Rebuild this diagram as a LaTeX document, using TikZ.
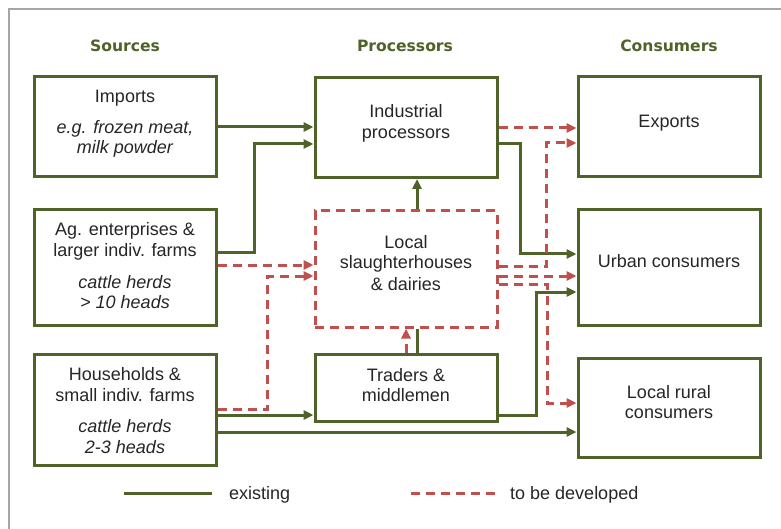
\documentclass[tikz,border=0pt]{standalone}
\usepackage{fontspec}
\setmainfont{Liberation Sans}
\newfontfamily\headfont{DejaVu Sans}
\usetikzlibrary{arrows.meta}
\definecolor{grn}{HTML}{4F6228}
\definecolor{rd}{HTML}{C0504D}
\definecolor{txtc}{HTML}{262626}
\definecolor{framec}{HTML}{A6A6A6}
\begin{document}
\begin{tikzpicture}[x=1pt,y=-1pt,
  box/.style={draw=grn, line width=3pt, minimum width=182pt, inner sep=0pt},
  dbox/.style={draw=rd, line width=3pt, dash pattern=on 9pt off 6pt, minimum width=182pt, inner sep=0pt},
  tl/.style={anchor=base, text=txtc, inner sep=0pt, font=\fontsize{18}{21}\selectfont},
  til/.style={anchor=base, text=txtc, inner sep=0pt, font=\fontsize{18}{21}\selectfont\itshape},
  hd/.style={anchor=base, text=grn, inner sep=0pt, font=\headfont\bfseries\fontsize{15.6}{18}\selectfont},
  ex/.style={draw=grn, line width=3pt, -{Triangle[length=10pt,width=9pt]}},
  exn/.style={draw=grn, line width=3pt},
  tb/.style={draw=rd, line width=3pt, dash pattern=on 9pt off 6pt, -{Triangle[length=10pt,width=9pt]}},
  tbn/.style={draw=rd, line width=3pt, dash pattern=on 9pt off 6pt},
]
\useasboundingbox (0,0) rectangle (781,529);
\fill[white] (0,0) rectangle (781,529);
% frame
\draw[framec, line width=1.5pt] (781,9) -- (9,9) -- (9,529);

% headings
\node[hd] (hsrc) at (125,52) {Sources};
\node[hd] (hpro) at (405,52) {Processors};
\node[hd] (hcon) at (669,52) {Consumers};

% boxes
\node[box, minimum height=100pt] (imp) at (125,127) {};
\node[box, minimum height=115pt] (ag) at (125,267.5) {};
\node[box, minimum height=111pt] (hh) at (125,409.5) {};
\node[box, minimum height=100pt] (ind) at (406,127.5) {};
\node[dbox, minimum height=116pt] (loc) at (406,269) {};
\node[box, minimum height=67pt] (tr) at (406,387.5) {};
\node[box, minimum height=100pt] (exp) at (669,127) {};
\node[box, minimum height=115pt] (urb) at (669,267.5) {};
\node[box, minimum height=99pt] (rur) at (669,407.5) {};

% texts
\node[tl] (imp1) at (125,103) {Imports};
\node[til] (imp2) at (125,134) {e.g. frozen meat,};
\node[til] (imp3) at (125,154) {milk powder};
\node[tl] (ag1) at (125,236) {Ag. enterprises \&};
\node[tl] (ag2) at (125,256) {larger indiv. farms};
\node[til] (ag3) at (125,288) {cattle herds};
\node[til] (ag4) at (125,308) {> 10 heads};
\node[tl] (hh1) at (125,380) {Households \&};
\node[tl] (hh2) at (125,401) {small indiv. farms};
\node[til] (hh3) at (125,432) {cattle herds};
\node[til] (hh4) at (125,453) {2-3 heads};
\node[tl] (ind1) at (406,118) {Industrial};
\node[tl] (ind2) at (406,139) {processors};
\node[tl] (loc1) at (406,249) {Local};
\node[tl] (loc2) at (406,269) {slaughterhouses};
\node[tl] (loc3) at (406,290) {\& dairies};
\node[tl] (tr1) at (406,381) {Traders \&};
\node[tl] (tr2) at (406,401) {middlemen};
\node[tl] (exp1) at (669,128) {Exports};
\node[tl] (urb1) at (669,268) {Urban consumers};
\node[tl] (rur1) at (669,398) {Local rural};
\node[tl] (rur2) at (669,418) {consumers};

% existing flows
\draw[ex] (imp.east) -- (imp.east -| ind.west);
\draw[ex] (ag.east |- 0,253) -- (254,253) -- (254,144) -- (ind.west |- 0,144);
\draw[ex] (loc.north -| 417,0) -- (ind.south -| 417,0);
\draw[exn] (tr.north -| 417,0) -- (loc.south -| 417,0);
\draw[ex] (ind.east |- 0,144) -- (520,144) -- (520,254) -- (urb.west |- 0,254);
\draw[ex] (tr.east |- 0,415) -- (536,415) -- (536,292) -- (urb.west |- 0,292);
\draw[ex] (hh.east |- 0,415) -- (tr.west |- 0,415);
\draw[ex] (hh.east |- 0,432) -- (rur.west |- 0,432);

% flows to be developed
\draw[tb] (ind.east |- 0,128) -- (exp.west |- 0,128);
\draw[tb] (loc.east |- 0,266) -- (546,266) -- (546,143) -- (exp.west |- 0,143);
\draw[tb] (loc.east |- 0,276) -- (urb.west |- 0,276);
\draw[tb] (loc.east |- 0,284) -- (547,284) -- (547,403) -- (rur.west |- 0,403);
\draw[tb] (ag.east |- 0,265) -- (loc.west |- 0,265);
\draw[tb] (hh.east |- 0,409) -- (267,409) -- (267,276) -- (loc.west |- 0,276);
\draw[tb] (tr.north -| 406,0) -- (loc.south -| 406,0);

% legend
\coordinate (lg1a) at (124,493);
\coordinate (lg1b) at (212,493);
\coordinate (lg2a) at (411,493);
\coordinate (lg2b) at (495,493);
\draw[exn] (lg1a) -- (lg1b);
\draw[tbn] (lg2a) -- (lg2b);
\node[tl, anchor=base west] (lgt1) at (229,499) {existing};
\node[tl, anchor=base west] (lgt2) at (510,499) {to be developed};
\end{tikzpicture}
\end{document}
